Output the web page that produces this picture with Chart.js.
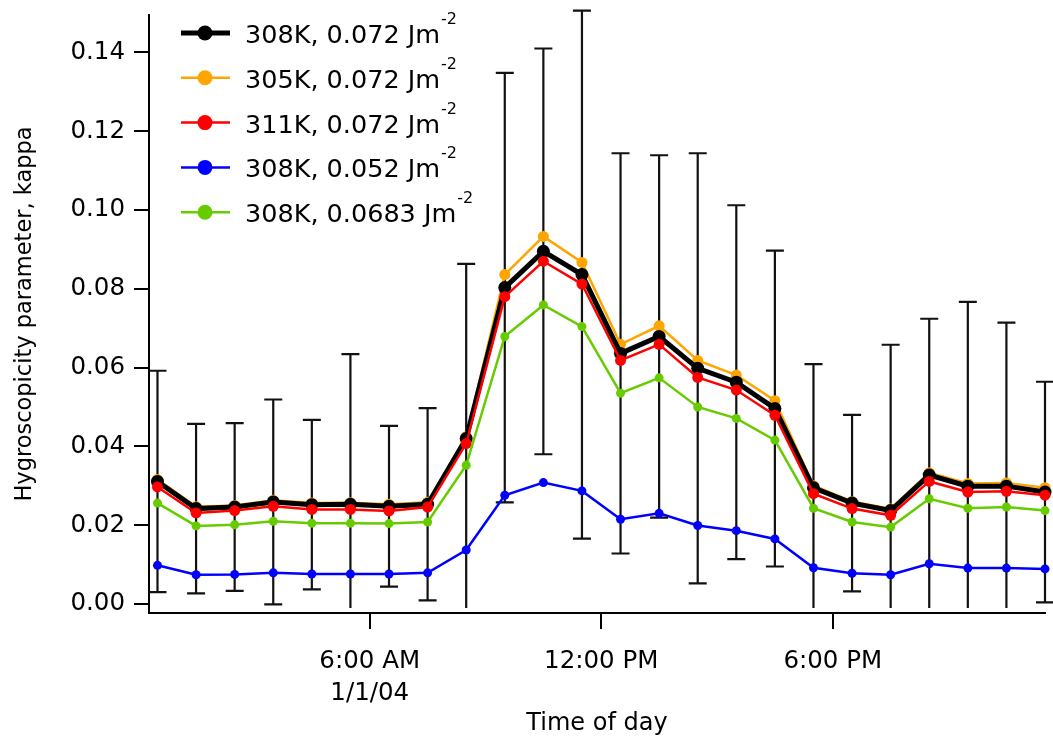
<!DOCTYPE html>
<html>
<head>
<meta charset="utf-8">
<script src="https://cdn.jsdelivr.net/npm/chart.js@4"></script>
<style>
  html, body { margin: 0; padding: 0; background: #fff; }
  #wrap { width: 1053px; height: 742px; }
</style>
</head>
<body>
<div id="wrap"><canvas id="kappaChart" width="1053" height="742"></canvas></div>
<script>
// hour of day (mid-hour bins)
const hours = [0.5, 1.5, 2.5, 3.5, 4.5, 5.5, 6.5, 7.5, 8.5, 9.5, 10.5, 11.5,
               12.5, 13.5, 14.5, 15.5, 16.5, 17.5, 18.5, 19.5, 20.5, 21.5, 22.5, 23.5];

const k308_072 = [0.0311, 0.0242, 0.0246, 0.0259, 0.0252, 0.0253, 0.0248, 0.0253, 0.0420, 0.0803, 0.0895, 0.0836,
                  0.0636, 0.0679, 0.0598, 0.0563, 0.0496, 0.0295, 0.0256, 0.0237, 0.0327, 0.0299, 0.0299, 0.0284];
const k305_072 = [0.0316, 0.0247, 0.0250, 0.0263, 0.0256, 0.0257, 0.0253, 0.0258, 0.0425, 0.0836, 0.0933, 0.0867,
                  0.0659, 0.0706, 0.0618, 0.0581, 0.0516, 0.0300, 0.0260, 0.0241, 0.0333, 0.0306, 0.0307, 0.0295];
const k311_072 = [0.0297, 0.0231, 0.0237, 0.0248, 0.0240, 0.0240, 0.0236, 0.0246, 0.0407, 0.0780, 0.0870, 0.0812,
                  0.0618, 0.0659, 0.0575, 0.0543, 0.0479, 0.0280, 0.0242, 0.0225, 0.0311, 0.0284, 0.0286, 0.0276];
const k308_052 = [0.0098, 0.0074, 0.0075, 0.0079, 0.0076, 0.0076, 0.0076, 0.0079, 0.0137, 0.0276, 0.0308, 0.0287,
                  0.0215, 0.0230, 0.0199, 0.0186, 0.0165, 0.0092, 0.0078, 0.0074, 0.0102, 0.0091, 0.0091, 0.0089];
const k308_0683 = [0.0256, 0.0198, 0.0201, 0.0210, 0.0205, 0.0205, 0.0204, 0.0208, 0.0352, 0.0679, 0.0759, 0.0704,
                   0.0535, 0.0574, 0.0500, 0.0471, 0.0416, 0.0243, 0.0208, 0.0195, 0.0267, 0.0243, 0.0246, 0.0237];

// +/- error on the 308K, 0.072 series
const kappaErr = [0.0281, 0.0215, 0.0213, 0.0260, 0.0215, 0.0381, 0.0204, 0.0244, 0.0443, 0.0545, 0.0515, 0.0670,
                  0.0508, 0.0460, 0.0546, 0.0449, 0.0401, 0.0314, 0.0224, 0.0421, 0.0397, 0.0468, 0.0415, 0.0280];

const seriesNames = ['308K, 0.072 Jm', '305K, 0.072 Jm', '311K, 0.072 Jm', '308K, 0.052 Jm', '308K, 0.0683 Jm'];
const unitSup = '-2';

const yTicks = [0, 0.02, 0.04, 0.06, 0.08, 0.10, 0.12, 0.14];
const xTicks = [6, 12, 18];
const xTickLabels = { 6: ['6:00 AM', '1/1/04'], 12: '12:00 PM', 18: '6:00 PM' };

const FONT = "'DejaVu Sans', Verdana, sans-serif";

const pts = arr => arr.map((v, i) => ({ x: hours[i], y: v }));

function series(i, arr, color, width, radius, order) {
  return {
    label: seriesNames[i],
    data: pts(arr),
    borderColor: color,
    backgroundColor: color,
    borderWidth: width,
    pointRadius: radius,
    pointHoverRadius: radius,
    pointBorderWidth: 0,
    order: order,
    clip: false,
    tension: 0
  };
}

const errorBars = {
  id: 'errorBars',
  beforeDatasetsDraw(chart) {
    const { ctx, chartArea, scales: { x, y } } = chart;
    ctx.save();
    ctx.beginPath();
    ctx.rect(0, 0, chart.width, chartArea.bottom - 5);
    ctx.clip();
    ctx.strokeStyle = '#111';
    ctx.lineWidth = 2.2;
    hours.forEach((h, i) => {
      const px = x.getPixelForValue(h);
      const top = y.getPixelForValue(k308_072[i] + kappaErr[i]);
      const bot = y.getPixelForValue(k308_072[i] - kappaErr[i]);
      ctx.beginPath();
      ctx.moveTo(px, top); ctx.lineTo(px, bot);
      ctx.moveTo(px - 9, top); ctx.lineTo(px + 9, top);
      ctx.moveTo(px - 9, bot); ctx.lineTo(px + 9, bot);
      ctx.stroke();
    });
    ctx.restore();
  }
};

const boxLegend = {
  id: 'boxLegend',
  afterDraw(chart) {
    const ctx = chart.ctx;
    ctx.save();
    chart.data.datasets.forEach((ds, i) => {
      const y = 33 + i * 44.8;
      ctx.strokeStyle = ds.borderColor;
      ctx.lineWidth = ds.borderWidth;
      ctx.beginPath();
      ctx.moveTo(181, y); ctx.lineTo(230, y);
      ctx.stroke();
      ctx.fillStyle = ds.borderColor;
      ctx.beginPath();
      ctx.arc(205, y, 7.5, 0, Math.PI * 2);
      ctx.fill();
      ctx.fillStyle = '#000';
      ctx.font = '25.5px ' + FONT;
      ctx.textBaseline = 'alphabetic';
      ctx.textAlign = 'left';
      ctx.fillText(ds.label, 245, y + 10);
      const w = ctx.measureText(ds.label).width;
      ctx.font = '16px ' + FONT;
      ctx.fillText(unitSup, 245 + w + 1, y - 9);
    });
    ctx.restore();
  }
};

const data = {
  datasets: [
    series(0, k308_072, '#000000', 5, 6.5, 2),
    series(1, k305_072, '#ffa500', 2.5, 5.5, 3),
    series(2, k311_072, '#ff0000', 2.5, 5.5, 1),
    series(3, k308_052, '#0000ff', 2.5, 4.5, 0),
    series(4, k308_0683, '#66cc00', 2.5, 4.5, 0)
  ]
};

const config = {
  type: 'line',
  data: data,
  options: {
    responsive: false,
    animation: false,
    layout: { padding: { top: 15, right: 8, left: 0, bottom: 0 } },
    plugins: {
      legend: { display: false },
      tooltip: { enabled: false }
    },
    scales: {
      x: {
        type: 'linear',
        min: 0.28,
        max: 23.5,
        afterFit: s => { s.height = 129; s.paddingLeft = 0; s.paddingRight = 0; },
        afterBuildTicks: s => { s.ticks = xTicks.map(v => ({ value: v })); },
        border: { display: true, color: '#000', width: 2 },
        grid: { display: true, drawOnChartArea: false, drawTicks: true, tickLength: 16, color: '#000', lineWidth: 2 },
        ticks: {
          color: '#000',
          font: { family: FONT, size: 24.5, lineHeight: 1.3 },
          padding: 17,
          maxRotation: 0,
          callback: v => xTickLabels[v] || ''
        },
        title: {
          display: true,
          text: 'Time of day',
          color: '#000',
          font: { family: FONT, size: 24 },
          padding: { top: 0, bottom: 4 }
        }
      },
      y: {
        min: -0.0023,
        max: 0.1495,
        afterFit: s => { s.width = 149; s.paddingTop = 0; s.paddingBottom = 0; },
        afterBuildTicks: s => { s.ticks = yTicks.map(v => ({ value: v })); },
        border: { display: true, color: '#000', width: 2 },
        grid: { display: true, drawOnChartArea: false, drawTicks: true, tickLength: 15, color: '#000', lineWidth: 2 },
        ticks: {
          color: '#000',
          font: { family: FONT, size: 24.5 },
          padding: 9,
          callback: v => v.toFixed(2)
        },
        title: {
          display: true,
          text: 'Hygroscopicity parameter, kappa',
          color: '#000',
          font: { family: FONT, size: 22.5 },
          padding: { top: 12, bottom: 0 }
        }
      }
    }
  },
  plugins: [errorBars, boxLegend]
};

const kappaChart = new Chart(document.getElementById('kappaChart'), config);
</script>
</body>
</html>
